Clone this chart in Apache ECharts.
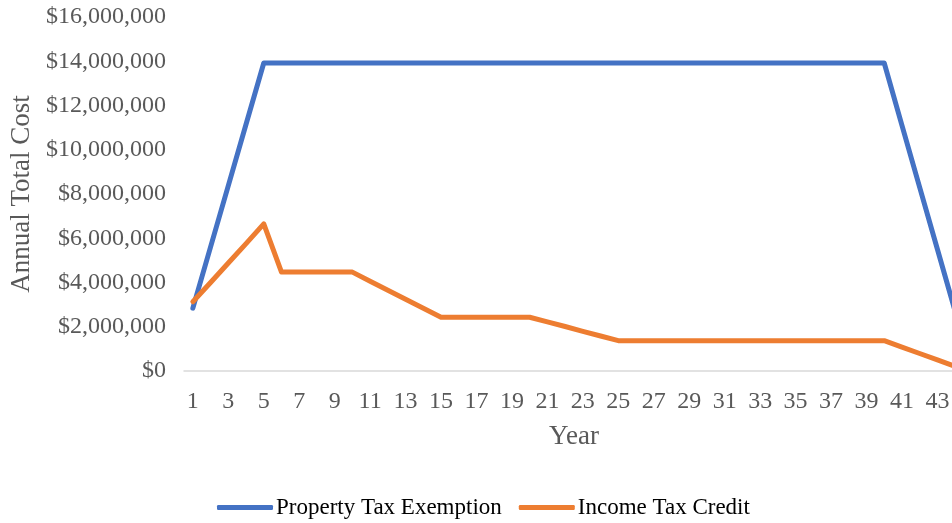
<!DOCTYPE html>
<html>
<head>
<meta charset="utf-8">
<script src="https://cdn.jsdelivr.net/npm/echarts@6/dist/echarts.min.js"></script>
<style>html,body{margin:0;padding:0;background:#fff;overflow:hidden;}#c{width:980px;height:523px;}</style>
</head>
<body>
<div id="c"></div>
<script>
var years = [];
for (var i = 1; i <= 44; i++) years.push(String(i));
var propertyTaxExemption = [
  2840000, 5610000, 8380000, 11150000, 13920000, 13920000, 13920000, 13920000, 13920000, 13920000,
  13920000, 13920000, 13920000, 13920000, 13920000, 13920000, 13920000, 13920000, 13920000, 13920000,
  13920000, 13920000, 13920000, 13920000, 13920000, 13920000, 13920000, 13920000, 13920000, 13920000,
  13920000, 13920000, 13920000, 13920000, 13920000, 13920000, 13920000, 13920000, 13920000, 13920000,
  11100000, 8300000, 5500000, 2700000
];
var incomeTaxCredit = [
  3130000, 4000000, 4880000, 5760000, 6650000, 4470000, 4470000, 4470000, 4470000, 4470000,
  4060000, 3650000, 3240000, 2840000, 2430000, 2430000, 2430000, 2430000, 2430000, 2430000,
  2220000, 2010000, 1790000, 1580000, 1370000, 1370000, 1370000, 1370000, 1370000, 1370000,
  1370000, 1370000, 1370000, 1370000, 1370000, 1370000, 1370000, 1370000, 1370000, 1370000,
  1080000, 790000, 500000, 210000
];
var seriesNames = ['Property Tax Exemption', 'Income Tax Credit'];
var yTicks = {min: 0, max: 16000000, interval: 2000000};

var font = 'Liberation Serif';
var chart = echarts.init(document.getElementById('c'));
chart.setOption({
  animation: false,
  textStyle: {fontFamily: font},
  color: ['#4472C4', '#ED7D31'],
  grid: {left: 183, top: 17, width: 781, height: 354, containLabel: false},
  legend: {
    left: 212, top: 491,
    itemWidth: 56, itemHeight: 5, itemGap: 17,
    icon: 'roundRect',
    textStyle: {fontFamily: font, fontSize: 23, color: '#000', padding: [0, 0, 0, -2]},
    data: seriesNames
  },
  xAxis: {
    type: 'category',
    data: years,
    boundaryGap: true,
    name: 'Year',
    nameLocation: 'middle',
    nameGap: 52,
    nameTextStyle: {fontFamily: font, fontSize: 27, color: '#595959'},
    axisLine: {lineStyle: {color: '#d9d9d9', width: 1.5}},
    axisTick: {show: false},
    axisLabel: {interval: 1, margin: 19, fontFamily: font, fontSize: 24, color: '#595959'}
  },
  yAxis: {
    type: 'value',
    min: yTicks.min, max: yTicks.max, interval: yTicks.interval,
    name: 'Annual Total Cost',
    nameLocation: 'middle',
    nameGap: 149,
    nameTextStyle: {fontFamily: font, fontSize: 27, color: '#595959'},
    splitLine: {show: false},
    axisLine: {show: false},
    axisTick: {show: false},
    axisLabel: {
      margin: 18, fontFamily: font, fontSize: 24, color: '#595959',
      formatter: function (v) { return '$' + v.toString().replace(/\B(?=(\d{3})+(?!\d))/g, ','); }
    }
  },
  series: [
    {name: seriesNames[0], type: 'line', data: propertyTaxExemption, symbol: 'none',
     lineStyle: {width: 5, cap: 'round', join: 'round'}},
    {name: seriesNames[1], type: 'line', data: incomeTaxCredit, symbol: 'none',
     lineStyle: {width: 5, cap: 'round', join: 'round'}}
  ]
});
</script>
</body>
</html>
